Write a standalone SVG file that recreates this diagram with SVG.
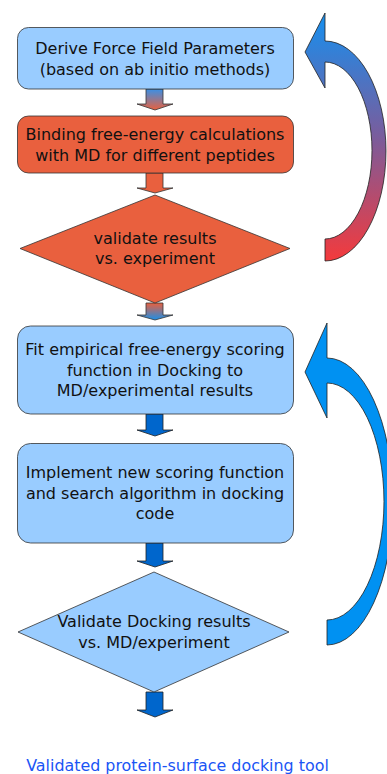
<svg xmlns="http://www.w3.org/2000/svg" width="387" height="774" viewBox="0 0 387 774">
<style>
.lb{fill:#99ccff;stroke:#333;stroke-width:0.8}
.or{fill:#e9603e;stroke:#333;stroke-width:0.8}
.db{fill:#0066cc;stroke:#222;stroke-width:0.8}
.t{font-family:"DejaVu Sans",Verdana,sans-serif;font-size:16px;fill:#111;text-anchor:middle}
.ft{font-family:"DejaVu Sans",Verdana,sans-serif;font-size:15.9px;fill:#1a55f5;text-anchor:middle}
</style>
<defs>
<linearGradient id="g1" x1="0" y1="0" x2="0" y2="1"><stop offset="0" stop-color="#3a90e6"/><stop offset="1" stop-color="#e9603e"/></linearGradient>
<linearGradient id="g3" x1="0" y1="0" x2="0" y2="1"><stop offset="0" stop-color="#e9603e"/><stop offset="1" stop-color="#1a8fe8"/></linearGradient>
<linearGradient id="gc" x1="0" y1="0" x2="0" y2="1"><stop offset="0" stop-color="#1590f0"/><stop offset="0.5" stop-color="#7a5c9c"/><stop offset="1" stop-color="#f43a3c"/></linearGradient>
</defs>
<g id="connectors">
<path d="M146,89H163V104H173L155,110L137,104H146Z" fill="url(#g1)" stroke="#333" stroke-width="0.8"/>
<path class="or" d="M146,173H163V188H173L155,193L137,188H146Z"/>
<path d="M146,303H163V315H173L155,320L137,315H146Z" fill="url(#g3)" stroke="#333" stroke-width="0.8"/>
<path class="db" d="M146,414H163V430H173L155,436L137,430H146Z"/>
<path class="db" d="M146,543H163V561H173L155,567L137,561H146Z"/>
<path class="db" d="M146,692H163V710H173L155,717L137,710H146Z"/>
<path d="M325,41A61,110 0 0 1 325,261V239A47,88.5 0 0 0 325,62V88L305,52L325,13Z" fill="url(#gc)" stroke="#222" stroke-width="0.8"/>
<path d="M327,358A66,143.5 0 0 1 327,645V620A57,118.5 0 0 0 327,383V418L305,372L327,323Z" fill="#0091f2" stroke="#222" stroke-width="0.8"/>
</g>
<g id="n1"><rect class="lb" x="17.5" y="27.5" width="276" height="61.5" rx="11"/>
<text class="t" x="155" y="54">Derive Force Field Parameters</text>
<text class="t" x="155" y="74.5">(based on ab initio methods)</text></g>
<g id="n2"><rect class="or" x="17.5" y="116" width="276" height="57" rx="11"/>
<text class="t" x="155" y="140">Binding free-energy calculations</text>
<text class="t" x="155" y="160.5">with MD for different peptides</text></g>
<g id="n3"><path class="or" d="M155,195L290,248.5L155,303L20,248.5Z"/>
<text class="t" x="155" y="244">validate results</text>
<text class="t" x="155" y="264">vs. experiment</text></g>
<g id="n4"><rect class="lb" x="17.5" y="326" width="276" height="88" rx="13"/>
<text class="t" x="155" y="355">Fit empirical free-energy scoring</text>
<text class="t" x="155" y="375.5">function in Docking to</text>
<text class="t" x="155" y="396">MD/experimental results</text></g>
<g id="n5"><rect class="lb" x="17.5" y="443.5" width="276" height="99.5" rx="13"/>
<text class="t" x="155" y="478">Implement new scoring function</text>
<text class="t" x="155" y="498.5">and search algorithm in docking</text>
<text class="t" x="155" y="519">code</text></g>
<g id="n6"><path class="lb" d="M154,572L289,632L154,692L18,632Z"/>
<text class="t" x="154" y="627">Validate Docking results</text>
<text class="t" x="154" y="648">vs. MD/experiment</text></g>
<g id="n7"><text class="ft" x="177.5" y="771">Validated protein-surface docking tool</text></g>
</svg>
